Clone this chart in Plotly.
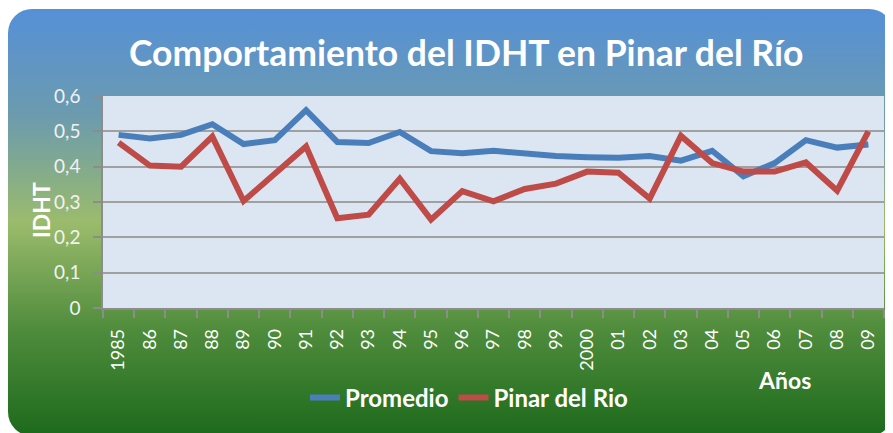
import base64
import plotly.graph_objects as go

# ---- data ----
years = ["1985", "86", "87", "88", "89", "90", "91", "92", "93", "94", "95", "96", "97",
         "98", "99", "2000", "01", "02", "03", "04", "05", "06", "07", "08", "09"]
promedio = [0.49, 0.48, 0.49, 0.52, 0.464, 0.475, 0.56, 0.47, 0.467, 0.498, 0.444, 0.438, 0.445,
            0.436, 0.43, 0.427, 0.425, 0.43, 0.417, 0.445, 0.373, 0.41, 0.475, 0.454, 0.463]
pinar = [0.468, 0.403, 0.4, 0.485, 0.303, 0.38, 0.457, 0.254, 0.264, 0.366, 0.25, 0.331, 0.302,
         0.337, 0.352, 0.386, 0.383, 0.31, 0.487, 0.41, 0.386, 0.386, 0.412, 0.332, 0.50]
y_ticks = [0, 0.1, 0.2, 0.3, 0.4, 0.5, 0.6]
y_tick_labels = ["0", "0,1", "0,2", "0,3", "0,4", "0,5", "0,6"]

# page has an 8px body margin, so the figure is drawn at (8, 8)
W, H = 885, 425
FONT = "Lato"
L, R, T, B = 95, 9, 88, 125
PW, PH = W - L - R, H - T - B


def px(x):  # figure pixel x -> paper
    return (x - L) / PW


def py(y):  # figure pixel y (from top) -> paper
    return (H - B - y) / PH


# background: rounded rectangle with vertical gradient (decoration)
svg = f'''<svg xmlns="http://www.w3.org/2000/svg" width="{W}" height="{H}" viewBox="0 0 {W} {H}" preserveAspectRatio="none">
<defs><linearGradient id="g" x1="0" y1="0" x2="0" y2="1">
<stop offset="0" stop-color="#5590d8"/>
<stop offset="0.25" stop-color="#6c9bae"/>
<stop offset="0.5" stop-color="#9bbb6c"/>
<stop offset="0.75" stop-color="#4f8c3c"/>
<stop offset="1" stop-color="#1d6a1c"/>
</linearGradient></defs>
<rect x="0" y="1" width="{W}" height="{H + 2}" rx="24" ry="24" fill="url(#g)"/>
</svg>'''
img_src = "data:image/svg+xml;base64," + base64.b64encode(svg.encode()).decode()

fig = go.Figure()
fig.add_trace(go.Scatter(x=years, y=promedio, name="Promedio", mode="lines",
                         line=dict(color="#4a7ebb", width=6)))
fig.add_trace(go.Scatter(x=years, y=pinar, name="Pinar del Rio", mode="lines",
                         line=dict(color="#be4b48", width=6)))

fig.update_layout(
    width=W, height=H,
    margin=dict(l=L, r=R, t=T, b=B),
    paper_bgcolor="white",
    plot_bgcolor="#dce6f2",
    font=dict(family=FONT, color="white"),
    showlegend=True,
    legend=dict(orientation="h", x=px(461), y=py(390), xanchor="center", yanchor="middle",
                font=dict(family=FONT, size=24, color="white", weight="bold"),
                bgcolor="rgba(0,0,0,0)", tracegroupgap=0),
    images=[dict(source=img_src, xref="paper", yref="paper", x=px(0), y=py(0),
                 sizex=W / PW, sizey=H / PH, xanchor="left", yanchor="top",
                 sizing="stretch", layer="below")],
    shapes=[dict(type="rect", xref="x domain", yref="y domain", x0=0, x1=1, y0=0, y1=1,
                 fillcolor="#dce6f2", line=dict(width=0), layer="below")],
    xaxis=dict(type="category", tickson="boundaries", ticks="outside", ticklen=8,
               tickcolor="#8c8c8c", tickwidth=1.5, showline=True, linecolor="#8c8c8c",
               linewidth=1.5, showgrid=False, tickangle=-90,
               tickfont=dict(family=FONT, size=18, color="white"),
               ticklabelstandoff=12, range=[-0.5, len(years) - 0.5]),
    yaxis=dict(range=[0, 0.6], tickvals=y_ticks, ticktext=y_tick_labels,
               ticks="outside", ticklen=8, tickcolor="#8c8c8c", tickwidth=1.5,
               showline=True, linecolor="#8c8c8c", linewidth=1.5,
               showgrid=True, gridcolor="#a0a0a0", gridwidth=1.5, zeroline=False,
               ticklabelstandoff=9,
               tickfont=dict(family=FONT, size=19, color="#f2f2f2")),
    annotations=[
        dict(text="<b>Comportamiento del IDHT en Pinar del Río</b>", xref="paper", yref="paper",
             x=px(458), y=py(44), xanchor="center", yanchor="middle", showarrow=False,
             font=dict(family=FONT, size=35.5, color="white")),
        dict(text="<b>IDHT</b>", xref="paper", yref="paper",
             x=px(33), y=py(202), xanchor="center", yanchor="middle", textangle=-90,
             showarrow=False, font=dict(family=FONT, size=23, color="white")),
        dict(text="<b>Años</b>", xref="paper", yref="paper",
             x=px(776), y=py(372), xanchor="center", yanchor="middle", showarrow=False,
             font=dict(family=FONT, size=23, color="white")),
    ],
)

fig.write_html("out.html")
